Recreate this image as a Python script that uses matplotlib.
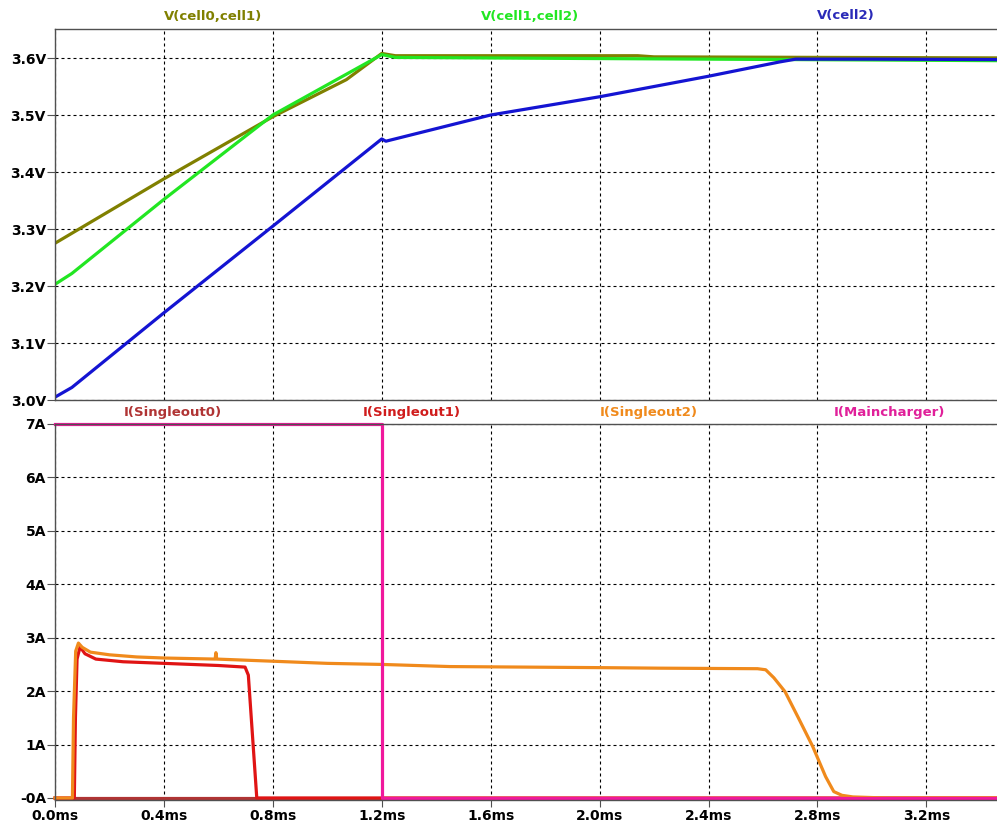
import matplotlib
matplotlib.use("Agg")
from matplotlib import pyplot as plt
from matplotlib.ticker import FixedLocator, FuncFormatter

# time axis in ms
t_olive = [0.0, 0.4, 0.8, 1.07, 1.2, 1.25, 1.6, 2.14, 2.2, 2.85, 3.6]
v_olive = [3.275, 3.388, 3.497, 3.562, 3.608, 3.604, 3.604, 3.604, 3.602, 3.601, 3.600]

t_green = [0.0, 0.062, 0.4, 0.8, 1.2, 1.25, 2.0, 2.8, 3.6]
v_green = [3.203, 3.222, 3.352, 3.500, 3.606, 3.601, 3.599, 3.597, 3.595]

t_blue = [0.0, 0.062, 0.4, 0.8, 1.2, 1.215, 1.6, 2.0, 2.4, 2.66, 2.72, 3.0, 3.6]
v_blue = [3.005, 3.022, 3.153, 3.305, 3.458, 3.454, 3.500, 3.532, 3.568, 3.593, 3.598, 3.598, 3.597]

t_so0 = [0.0, 3.6]
i_so0 = [0.0, 0.0]

t_so1 = [0.0, 0.071, 0.075, 0.081, 0.092, 0.11, 0.15, 0.25, 0.4, 0.6, 0.698, 0.71, 0.741, 3.6]
i_so1 = [0.0, 0.0, 1.5, 2.6, 2.83, 2.70, 2.60, 2.55, 2.52, 2.48, 2.45, 2.30, 0.0, 0.0]

t_so2 = [0.0, 0.064, 0.068, 0.076, 0.086, 0.1, 0.13, 0.2, 0.3, 0.4, 0.588, 0.591, 0.594,
         0.8, 1.0, 1.2, 1.45, 2.0, 2.22, 2.58, 2.61, 2.64, 2.681, 2.73, 2.783, 2.83, 2.86,
         2.89, 2.93, 3.05, 3.6]
i_so2 = [0.0, 0.0, 1.5, 2.75, 2.90, 2.82, 2.73, 2.68, 2.64, 2.62, 2.60, 2.72, 2.60,
         2.56, 2.52, 2.50, 2.46, 2.44, 2.43, 2.42, 2.40, 2.25, 1.99, 1.50, 0.96, 0.40, 0.12,
         0.05, 0.02, 0.0, 0.0]

t_main = [0.0, 1.2, 1.2, 3.6]
i_main = [7.0, 7.0, 0.0, 0.0]

x_ticks = [0.0, 0.4, 0.8, 1.2, 1.6, 2.0, 2.4, 2.8, 3.2]
v_ticks = [3.0, 3.1, 3.2, 3.3, 3.4, 3.5, 3.6]
i_ticks = [0, 1, 2, 3, 4, 5, 6, 7]

c_olive = '#808000'
c_green = '#22e622'
c_blue = '#1414d2'
c_so0 = '#b03434'
c_so1 = '#e01414'
c_so2 = '#f08a1c'
c_main = '#f0189c'

plt.rcParams['font.family'] = 'DejaVu Sans'
plt.rcParams['font.weight'] = 'bold'

W, H = 997, 827
fig = plt.figure(figsize=(W / 100, H / 100), dpi=100)

xmax = (997 - 55) / 272.3
ax1 = fig.add_axes([55 / W, 1 - 400 / H, 1 - 55 / W, 371 / H])
ax2 = fig.add_axes([55 / W, 1 - 799.6 / H, 1 - 55 / W, 375.6 / H])

lw = 2.3
ax1.plot(t_olive, v_olive, color=c_olive, lw=lw)
ax1.plot(t_green, v_green, color=c_green, lw=lw)
ax1.plot(t_blue, v_blue, color=c_blue, lw=lw)

ax2.plot(t_so0, i_so0, color=c_so0, lw=lw, clip_on=False)
ax2.plot(t_so1, i_so1, color=c_so1, lw=lw, clip_on=False)
ax2.plot(t_so2, i_so2, color=c_so2, lw=lw, clip_on=False)
ax2.plot(t_main, i_main, color=c_main, lw=lw, clip_on=False)

ax1.set_ylim(3.0, 3.0 + 371 / 570)
ax2.set_ylim(-0.03, 7.0)

for ax in (ax1, ax2):
    ax.set_xlim(0, xmax)
    ax.xaxis.set_major_locator(FixedLocator(x_ticks))
    ax.grid(True, color='black', linestyle=(0, (2.7, 2.7)), linewidth=0.8)
    ax.spines['right'].set_visible(False)
    for s in ('left', 'top', 'bottom'):
        ax.spines[s].set_color('#505050')
        ax.spines[s].set_linewidth(1.0)
    ax.tick_params(axis='y', length=6, width=0.8, color='#505050', pad=0.5, labelsize=10)
    ax.tick_params(axis='x', length=5, width=0.8, color='#505050', pad=2, labelsize=10)

ax1.yaxis.set_major_locator(FixedLocator(v_ticks))
ax1.yaxis.set_major_formatter(FuncFormatter(lambda v, p: '%.1fV' % v))
ax1.tick_params(axis='x', length=0, labelbottom=False)

ax2.yaxis.set_major_locator(FixedLocator(i_ticks))
ax2.yaxis.set_major_formatter(FuncFormatter(lambda v, p: '-0A' if v == 0 else '%dA' % v))
ax2.xaxis.set_major_formatter(FuncFormatter(lambda v, p: '%.1fms' % v))

# trace names above each pane
top_labels = [('V(cell0,cell1)', 213, c_olive), ('V(cell1,cell2)', 530, c_green),
              ('V(cell2)', 846, '#2a2ab8')]
bot_labels = [('I(Singleout0)', 173, c_so0), ('I(Singleout1)', 412, '#d01c1c'),
              ('I(Singleout2)', 649, c_so2), ('I(Maincharger)', 889, '#e0209a')]
for txt, x, c in top_labels:
    fig.text(x / W, 1 - 16 / H, txt, color=c, ha='center', va='center', fontsize=9.5, fontweight='bold')
for txt, x, c in bot_labels:
    fig.text(x / W, 1 - 412 / H, txt, color=c, ha='center', va='center', fontsize=9.5, fontweight='bold')

fig.savefig('out.png', dpi=100)
